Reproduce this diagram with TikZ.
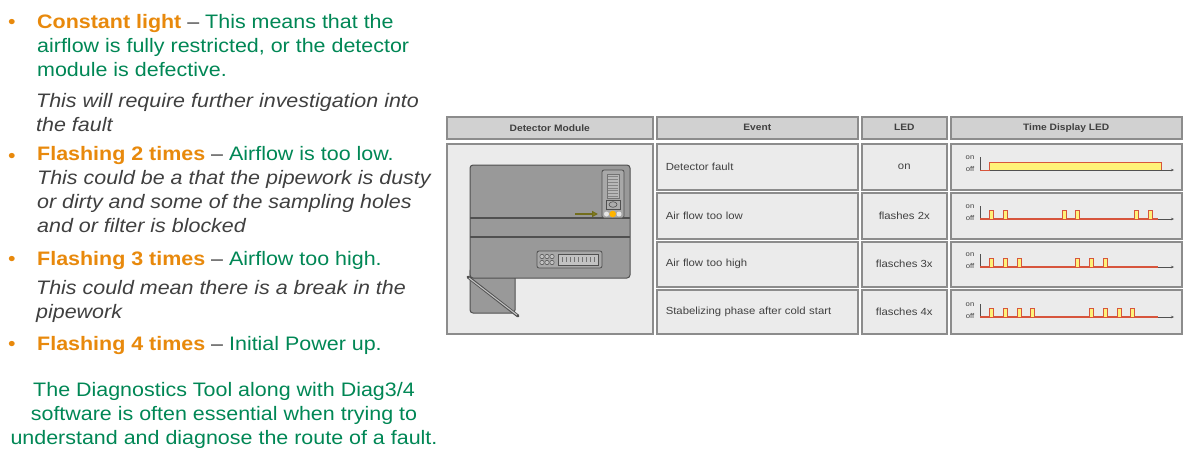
\documentclass[tikz,border=0pt]{standalone}
\usepackage{fontspec}
\setmainfont[FakeStretch=1.1]{Liberation Sans}
\usepackage{tikz}
\usetikzlibrary{arrows.meta}
\definecolor{hiorange}{RGB}{232,137,12}
\definecolor{higreen}{RGB}{0,135,85}
\definecolor{notegrey}{RGB}{64,64,64}
\definecolor{cellline}{RGB}{140,140,140}
\definecolor{hdrfill}{RGB}{209,209,209}
\definecolor{cellfill}{RGB}{235,235,235}
\definecolor{boxgrey}{RGB}{153,153,153}
\definecolor{boxline}{RGB}{80,80,80}
\definecolor{ledred}{RGB}{215,85,60}
\definecolor{ledyellow}{RGB}{255,242,120}
\definecolor{ledorange}{RGB}{255,180,0}
\tikzset{>=stealth}
\tikzset{
 item/.style={anchor=base west, align=left, inner sep=0pt, font=\fontsize{19.5}{24}\selectfont},
 bulletmark/.style={anchor=base, inner sep=0pt, text=hiorange, font=\fontsize{19.5}{24}\selectfont},
 hdrcell/.style={draw=cellline, fill=hdrfill, line width=1.5pt, anchor=north west, inner sep=0pt, text=notegrey, font=\fontsize{9.3}{11}\selectfont\bfseries},
 bodycell/.style={draw=cellline, fill=cellfill, line width=1.5pt, anchor=north west, inner sep=0pt, text=notegrey, font=\fontsize{10.3}{12}\selectfont},
 ticklabel/.style={inner sep=0pt, text=notegrey, font=\fontsize{7}{8}\selectfont},
 pulse/.style={draw=ledred, fill=ledyellow, line width=0.8pt}
}

\begin{document}
\begin{tikzpicture}[x=1pt,y=-1pt]
\useasboundingbox (0,0) rectangle (1191,456);
\fill[white] (0,0) rectangle (1191,456);

% left column: notes on the led codes (nodes sit on the baseline of their last line)
\node[bulletmark] (b1) at (12,28) {•};
\node[item] (constant) at (37,76) {\textcolor{hiorange}{\bfseries Constant light} \textcolor{notegrey}{–} \textcolor{higreen}{This means that the}\\
 \textcolor{higreen}{airflow is fully restricted, or the detector}\\
 \textcolor{higreen}{module is defective.}};
\node[item, text=notegrey] (constnote) at (36,131) {\itshape This will require further investigation into\\ \itshape the fault};
\node[bulletmark] (b2) at (12,162) {•};
\node[item] (flash2) at (37,232) {\textcolor{hiorange}{\bfseries Flashing 2 times} \textcolor{notegrey}{–} \textcolor{higreen}{Airflow is too low.}\\
 \textcolor{notegrey}{\itshape This could be a that the pipework is dusty}\\
 \textcolor{notegrey}{\itshape or dirty and some of the sampling holes}\\
 \textcolor{notegrey}{\itshape and or filter is blocked}};
\node[bulletmark] (b3) at (12,265) {•};
\node[item] (flash3) at (37,265) {\textcolor{hiorange}{\bfseries Flashing 3 times} \textcolor{notegrey}{–} \textcolor{higreen}{Airflow too high.}};
\node[item, text=notegrey] (flash3note) at (36,318) {\itshape This could mean there is a break in the\\ \itshape pipework};
\node[bulletmark] (b4) at (12,350) {•};
\node[item] (flash4) at (37,350) {\textcolor{hiorange}{\bfseries Flashing 4 times} \textcolor{notegrey}{–} \textcolor{higreen}{Initial Power up.}};
\node[item, anchor=base, align=center, text=higreen] (diagtool) at (224,444) {The Diagnostics Tool along with Diag3/4\\ software is often essential when trying to\\ understand and diagnose the route of a fault.};

% table headers
\node[hdrcell, minimum width=206pt, minimum height=22pt] (hdet) at (446,116) {Detector Module};
\node[hdrcell, minimum width=201pt, minimum height=22pt] (hevt) at (656,116) {Event};
\node[hdrcell, minimum width=85pt, minimum height=22pt] (hled) at (861,116) {LED};
\node[hdrcell, minimum width=231pt, minimum height=22pt] (htim) at (950,116) {Time Display LED};

% table body
\node[bodycell, minimum width=206pt, minimum height=190pt] (cdet) at (446,143) {};
\node[bodycell, minimum width=201pt, minimum height=46pt, text width=183pt, align=left] (evt1) at (656,143) {Detector fault};
\node[bodycell, minimum width=201pt, minimum height=46pt, text width=183pt, align=left] (evt2) at (656,192) {Air flow too low};
\node[bodycell, minimum width=201pt, minimum height=45pt, text width=183pt, align=left] (evt3) at (656,241) {Air flow too high};
\node[bodycell, minimum width=201pt, minimum height=44pt, text width=183pt, align=left] (evt4) at (656,289) {Stabelizing phase after cold start};
\node[bodycell, minimum width=85pt, minimum height=46pt] (led1) at (861,143) {on};
\node[bodycell, minimum width=85pt, minimum height=46pt] (led2) at (861,192) {flashes 2x};
\node[bodycell, minimum width=85pt, minimum height=45pt] (led3) at (861,241) {flasches 3x};
\node[bodycell, minimum width=85pt, minimum height=44pt] (led4) at (861,289) {flasches 4x};
\node[bodycell, minimum width=231pt, minimum height=46pt] (tim1) at (950,143) {};
\node[bodycell, minimum width=231pt, minimum height=46pt] (tim2) at (950,192) {};
\node[bodycell, minimum width=231pt, minimum height=45pt] (tim3) at (950,241) {};
\node[bodycell, minimum width=231pt, minimum height=44pt] (tim4) at (950,289) {};

% detector module drawing
\draw[fill=boxgrey, draw=boxline, line width=1pt, rounded corners=3pt] (470,268) rectangle (515,313);
\draw[fill=boxgrey, draw=boxline, line width=1pt, rounded corners=3pt] (470,165) rectangle (630,278);
\draw[boxline, line width=1.3pt] (470,218) -- (630,218) (470,237) -- (630,237);
\draw[fill=boxgrey!85!white, draw=boxline, line width=0.8pt, rounded corners=2pt] (602,170) rectangle (624,218);
\draw[fill=boxgrey!70!white, draw=boxline!80, line width=0.5pt] (607,174) rectangle (619,198);
\foreach \k in {0,...,7}
 \draw[boxline!70, line width=0.4pt] (608,{176.5+2.8*\k}) -- (618,{176.5+2.8*\k});
\draw[fill=boxgrey!80!white, draw=boxline, line width=0.6pt] (606,200) rectangle (620,209);
\draw[boxline, line width=0.6pt] (613,204.5) ellipse (4 and 2.8);
\fill[white!80!gray] (606.5,214) circle (2.5) (619,214) circle (2.5);
\fill[ledorange] (612.7,214) circle (3.3);
\draw[line width=1.6pt, draw=olive!75!black, -{Triangle[length=6pt,width=6pt,fill=yellow]}] (575,214) -- (598,214);
\draw[fill=boxgrey!85!white, draw=boxline, line width=0.8pt, rounded corners=2pt] (537,251) rectangle (602,268);
\foreach \cx in {542,547,552}
 \foreach \cy in {256.5,262.5}
  \draw[boxline, fill=boxgrey!60!white, line width=0.5pt] (\cx,\cy) circle (2.2);
\draw[fill=boxgrey!60!white, draw=boxline, line width=0.5pt] (558,254) rectangle (598,265);
\foreach \tx in {562,566,...,594}
 \draw[boxline!80, line width=0.4pt] (\tx,257) -- (\tx,262);
\draw[boxline, line width=3pt, line cap=round] (468,277) -- (518,316);
\draw[boxgrey!60!white, line width=1.1pt] (469,278) -- (517,315);

% time display: constant light
\begin{scope}[shift={(0,170)}]
 \node[ticklabel] (on1) at (970,-12) {on};
 \node[ticklabel] (off1) at (970,-1) {off};
 \draw[boxline, line width=0.6pt] (980,-13) -- (980,0);
 \draw[boxline, line width=0.6pt, -{Stealth[length=3pt,width=2.5pt]}] (980,0) -- (1174,0);
 \fill[ledyellow] (989,0) rectangle (1161,-8);
 \draw[ledred, line width=1pt] (980,0) -- (989,0) -- (989,-8) -- (1161,-8) -- (1161,0);
\end{scope}

% time display: flashing
\foreach \yb/\pulses in {219/{989,1003,1062,1075,1134,1148},
                         267/{989,1003,1017,1075,1089,1103},
                         317/{989,1003,1017,1030,1089,1103,1117,1130}}{
 \begin{scope}[shift={(0,\yb)}]
  \node[ticklabel] at (970,-12) {on};
  \node[ticklabel] at (970,-1) {off};
  \draw[boxline, line width=0.6pt] (980,-13) -- (980,0);
  \draw[boxline, line width=0.6pt, -{Stealth[length=3pt,width=2.5pt]}] (980,0) -- (1174,0);
  \draw[ledred, line width=1.1pt] (980,0) -- (1158,0);
  \foreach \p in \pulses
   \draw[pulse] (\p,0) rectangle ({\p+4.5},-9);
 \end{scope}
}
\end{tikzpicture}
\end{document}
